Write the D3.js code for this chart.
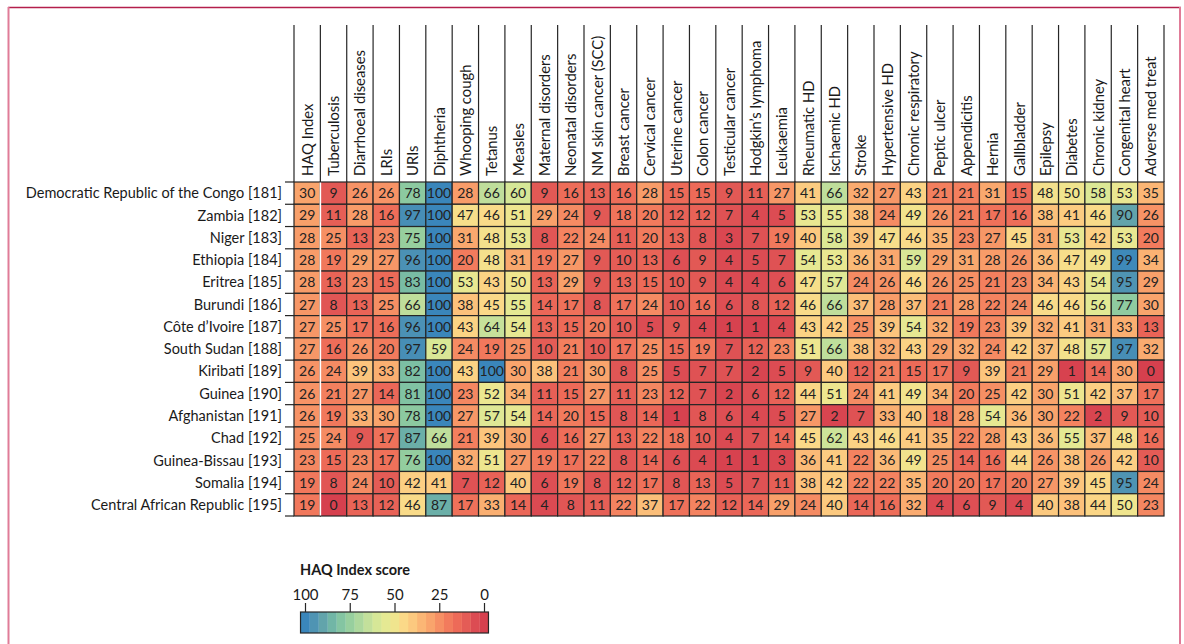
<!DOCTYPE html>
<html>
<head>
<meta charset="utf-8">
<script src="https://cdn.jsdelivr.net/npm/d3@7"></script>
<style>
  body { margin: 0; background: #fff; }
  svg { display: block; font-family: Lato, "Open Sans", sans-serif; }
</style>
</head>
<body>
<script>
// causes (columns)
var columns = ["HAQ Index", "Tuberculosis", "Diarrhoeal diseases", "LRIs", "URIs", "Diphtheria",
  "Whooping cough", "Tetanus", "Measles", "Maternal disorders", "Neonatal disorders",
  "NM skin cancer (SCC)", "Breast cancer", "Cervical cancer", "Uterine cancer", "Colon cancer",
  "Testicular cancer", "Hodgkin\u2019s lymphoma", "Leukaemia", "Rheumatic HD", "Ischaemic HD",
  "Stroke", "Hypertensive HD", "Chronic respiratory", "Peptic ulcer", "Appendicitis", "Hernia",
  "Gallbladder", "Epilepsy", "Diabetes", "Chronic kidney", "Congenital heart", "Adverse med treat"];

var countries = ["Democratic Republic of the Congo [181]", "Zambia [182]", "Niger [183]",
  "Ethiopia [184]", "Eritrea [185]", "Burundi [186]", "C\u00f4te d\u2019Ivoire [187]",
  "South Sudan [188]", "Kiribati [189]", "Guinea [190]", "Afghanistan [191]", "Chad [192]",
  "Guinea-Bissau [193]", "Somalia [194]", "Central African Republic [195]"];

// one row per country, same order as columns
var scores = [
  [30, 9, 26, 26, 78, 100, 28, 66, 60, 9, 16, 13, 16, 28, 15, 15, 9, 11, 27, 41, 66, 32, 27, 43, 21, 21, 31, 15, 48, 50, 58, 53, 35],
  [29, 11, 28, 16, 97, 100, 47, 46, 51, 29, 24, 9, 18, 20, 12, 12, 7, 4, 5, 53, 55, 38, 24, 49, 26, 21, 17, 16, 38, 41, 46, 90, 26],
  [28, 25, 13, 23, 75, 100, 31, 48, 53, 8, 22, 24, 11, 20, 13, 8, 3, 7, 19, 40, 58, 39, 47, 46, 35, 23, 27, 45, 31, 53, 42, 53, 20],
  [28, 19, 29, 27, 96, 100, 20, 48, 31, 19, 27, 9, 10, 13, 6, 9, 4, 5, 7, 54, 53, 36, 31, 59, 29, 31, 28, 26, 36, 47, 49, 99, 34],
  [28, 13, 23, 15, 83, 100, 53, 43, 50, 13, 29, 9, 13, 15, 10, 9, 4, 4, 6, 47, 57, 24, 26, 46, 26, 25, 21, 23, 34, 43, 54, 95, 29],
  [27, 8, 13, 25, 66, 100, 38, 45, 55, 14, 17, 8, 17, 24, 10, 16, 6, 8, 12, 46, 66, 37, 28, 37, 21, 28, 22, 24, 46, 46, 56, 77, 30],
  [27, 25, 17, 16, 96, 100, 43, 64, 54, 13, 15, 20, 10, 5, 9, 4, 1, 1, 4, 43, 42, 25, 39, 54, 32, 19, 23, 39, 32, 41, 31, 33, 13],
  [27, 16, 26, 20, 97, 59, 24, 19, 25, 10, 21, 10, 17, 25, 15, 19, 7, 12, 23, 51, 66, 38, 32, 43, 29, 32, 24, 42, 37, 48, 57, 97, 32],
  [26, 24, 39, 33, 82, 100, 43, 100, 30, 38, 21, 30, 8, 25, 5, 7, 7, 2, 5, 9, 40, 12, 21, 15, 17, 9, 39, 21, 29, 1, 14, 30, 0],
  [26, 21, 27, 14, 81, 100, 23, 52, 34, 11, 15, 27, 11, 23, 12, 7, 2, 6, 12, 44, 51, 24, 41, 49, 34, 20, 25, 42, 30, 51, 42, 37, 17],
  [26, 19, 33, 30, 78, 100, 27, 57, 54, 14, 20, 15, 8, 14, 1, 8, 6, 4, 5, 27, 2, 7, 33, 40, 18, 28, 54, 36, 30, 22, 2, 9, 10],
  [25, 24, 9, 17, 87, 66, 21, 39, 30, 6, 16, 27, 13, 22, 18, 10, 4, 7, 14, 45, 62, 43, 46, 41, 35, 22, 28, 43, 36, 55, 37, 48, 16],
  [23, 15, 23, 17, 76, 100, 32, 51, 27, 19, 17, 22, 8, 14, 6, 4, 1, 1, 3, 36, 41, 22, 36, 49, 25, 14, 16, 44, 26, 38, 26, 42, 10],
  [19, 8, 24, 10, 42, 41, 7, 12, 40, 6, 19, 8, 12, 17, 8, 13, 5, 7, 11, 38, 42, 22, 22, 35, 20, 20, 17, 20, 27, 39, 45, 95, 24],
  [19, 0, 13, 12, 46, 87, 17, 33, 14, 4, 8, 11, 22, 37, 17, 22, 12, 14, 29, 24, 40, 14, 16, 32, 4, 6, 9, 4, 40, 38, 44, 50, 23]
];

// legend bands (score -> colour)
var legendSteps = [0, 5, 10, 15, 20, 25, 30, 35, 40, 45, 50, 55, 60, 65, 70, 75, 80, 85, 90, 95, 100];
var legendColors = ["#d6404e", "#dc4c53", "#e45c56", "#ed6a58", "#f27b5d", "#f68f64", "#f9a46c",
  "#fbb675", "#fcc97f", "#fbd988", "#f0e58e", "#e5e993", "#d6e797", "#c3e09b", "#add89d",
  "#97cf9e", "#84c5a2", "#71b6a6", "#62a4ab", "#4f94b3", "#3a86bb"];
var legendTicks = [100, 75, 50, 25, 0];

var width = 1184, height = 644;
var line = "#262626";

var svg = d3.select("body").append("svg")
  .attr("width", width)
  .attr("height", height);

// frame
svg.append("line").attr("x1", 8).attr("x2", 1181).attr("y1", 7.5).attr("y2", 7.5)
  .attr("stroke", "#b41f4b").attr("stroke-width", 1.3);
svg.append("line").attr("x1", 8.5).attr("x2", 8.5).attr("y1", 7).attr("y2", height)
  .attr("stroke", "#e07c98").attr("stroke-width", 2);
svg.append("line").attr("x1", 1180).attr("x2", 1180).attr("y1", 7).attr("y2", height)
  .attr("stroke", "#e07c98").attr("stroke-width", 2);

var x = d3.scaleBand().domain(columns).range([294, 1164]);
var y = d3.scaleBand().domain(countries).range([182, 516]);
var color = d3.scaleLinear().domain(legendSteps).range(legendColors).clamp(true);

var rows = [];
scores.forEach(function(r, i) {
  r.forEach(function(v, j) {
    rows.push({ country: countries[i], cause: columns[j], value: v });
  });
});

//// header: vertical rules + rotated labels
var head = svg.append("g");
head.selectAll("line")
  .data(columns.map(function(c) { return x(c); }).concat([x.range()[1]]))
  .join("line")
  .attr("x1", function(d) { return d; }).attr("x2", function(d) { return d; })
  .attr("y1", 25).attr("y2", y.range()[0])
  .attr("stroke", line).attr("stroke-width", 1.2);

head.selectAll("text")
  .data(columns)
  .join("text")
  .attr("transform", function(d) { return "translate(" + (x(d) + x.bandwidth() / 2 + 5.5) + ",176) rotate(-90)"; })
  .attr("font-size", 14.8)
  .attr("fill", "#1a1a1a")
  .text(function(d) { return d; });

//// cells
var cells = svg.append("g");
cells.selectAll("rect")
  .data(rows)
  .join("rect")
  .attr("x", function(d) { return x(d.cause); })
  .attr("y", function(d) { return y(d.country); })
  .attr("width", x.bandwidth())
  .attr("height", y.bandwidth())
  .attr("fill", function(d) { return color(d.value); })
  .attr("stroke", line)
  .attr("stroke-width", 1.2);

cells.selectAll("text")
  .data(rows)
  .join("text")
  .attr("x", function(d) { return x(d.cause) + x.bandwidth() / 2; })
  .attr("y", function(d) { return y(d.country) + y.bandwidth() / 2; })
  .attr("dy", "0.36em")
  .attr("text-anchor", "middle")
  .attr("font-size", 14)
  .attr("fill", "#222")
  .text(function(d) { return d.value; });

// white rule after the HAQ Index column
svg.append("line")
  .attr("x1", x(columns[1])).attr("x2", x(columns[1]))
  .attr("y1", y.range()[0] + 0.6).attr("y2", y.range()[1] - 0.6)
  .attr("stroke", "#fff").attr("stroke-width", 1.6);

// little rules left of the table under each label
svg.append("g").selectAll("line")
  .data([y.range()[0]].concat(countries.map(function(c) { return y(c) + y.bandwidth(); })))
  .join("line")
  .attr("x1", 285).attr("x2", x.range()[0])
  .attr("y1", function(d) { return d; }).attr("y2", function(d) { return d; })
  .attr("stroke", line).attr("stroke-width", 1.2);

// row labels
svg.append("g").selectAll("text")
  .data(countries)
  .join("text")
  .attr("x", 282)
  .attr("y", function(d) { return y(d) + y.bandwidth() / 2; })
  .attr("dy", "0.36em")
  .attr("text-anchor", "end")
  .attr("font-size", 14.5)
  .attr("fill", "#1a1a1a")
  .text(function(d) { return d; });

//// legend
var xL = d3.scaleLinear().domain([100, 0]).range([305, 484]);
var bandW = Math.abs(xL(0) - xL(5));
var legend = svg.append("g");

legend.append("text")
  .attr("x", 300).attr("y", 575)
  .attr("font-size", 14.5).attr("font-weight", "bold")
  .attr("fill", "#1a1a1a")
  .text("HAQ Index score");

legend.selectAll("rect")
  .data(legendSteps)
  .join("rect")
  .attr("x", function(d) { return xL(d) - bandW / 2; })
  .attr("y", 612)
  .attr("width", bandW + 0.3)
  .attr("height", 21)
  .attr("fill", function(d) { return color(d); });

legend.append("rect")
  .attr("x", xL(100) - bandW / 2).attr("y", 612)
  .attr("width", bandW * legendSteps.length).attr("height", 21)
  .attr("fill", "none").attr("stroke", line).attr("stroke-width", 1.2);

var axis = legend.append("g")
  .attr("transform", "translate(0,612)")
  .call(d3.axisTop(xL).tickValues(legendTicks).tickSize(9).tickPadding(3).tickFormat(d3.format("d")));
axis.select(".domain").remove();
axis.selectAll("line").attr("stroke", line).attr("stroke-width", 1.2);
axis.selectAll("text").attr("font-size", 15).attr("font-family", "Lato, sans-serif").attr("fill", "#1a1a1a");
</script>
</body>
</html>
